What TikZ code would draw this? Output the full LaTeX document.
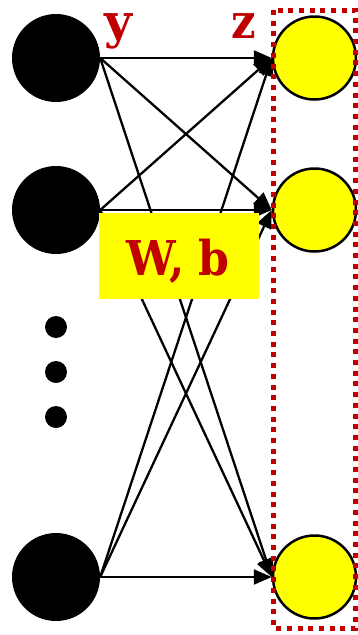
\documentclass[tikz,border=0pt]{standalone}
\usepackage{fontspec}
\setmainfont{DejaVu Serif}
\usetikzlibrary{arrows.meta}
\definecolor{dred}{HTML}{C00000}
\definecolor{yel}{HTML}{FFFF00}
\begin{document}
\begin{tikzpicture}[x=1pt,y=-1pt,
  inp/.style={circle,fill=black,minimum size=88pt,inner sep=0pt},
  outp/.style={circle,fill=yel,draw=black,line width=2.5pt,minimum size=83pt,inner sep=0pt},
  dotn/.style={circle,fill=black,minimum size=22pt,inner sep=0pt},
  conn/.style={line width=2.3pt,-{Triangle[length=18pt,width=15pt]}},
  lbl/.style={text=dred,font=\fontsize{48}{50}\selectfont\bfseries,inner sep=0pt}]
\useasboundingbox (0,0) rectangle (358,635);
\node[inp] (L1) at (56,58) {};
\node[inp] (L2) at (56,210) {};
\node[inp] (L3) at (56,577) {};
\node[dotn] (d1) at (56,327) {};
\node[dotn] (d2) at (56,372) {};
\node[dotn] (d3) at (56,417) {};
\node[outp] (Y1) at (314.5,58) {};
\node[outp] (Y2) at (314.5,210) {};
\node[outp] (Y3) at (314.5,577) {};
\foreach \a in {L1,L2,L3}{
  \foreach \b in {Y1,Y2,Y3}{
    \draw[conn] (\a.east) -- (\b.west);
  }
}
\node[fill=yel,minimum width=160pt,minimum height=86pt,inner sep=0pt] (box) at (179,255.5) {};
\node[lbl,anchor=base] (wb) at (178,275) {\scalebox{0.92}[1]{W,\hspace{0.3em}b}};
\node[lbl,anchor=base] (ly) at (118,38) {y};
\node[lbl,anchor=base] (lz) at (243.5,38) {\scalebox{0.9}[1]{z}};
\draw[dred,line width=5pt,dash pattern=on 5pt off 5.7pt] (273.5,10) rectangle (355.5,628);
\end{tikzpicture}
\end{document}
